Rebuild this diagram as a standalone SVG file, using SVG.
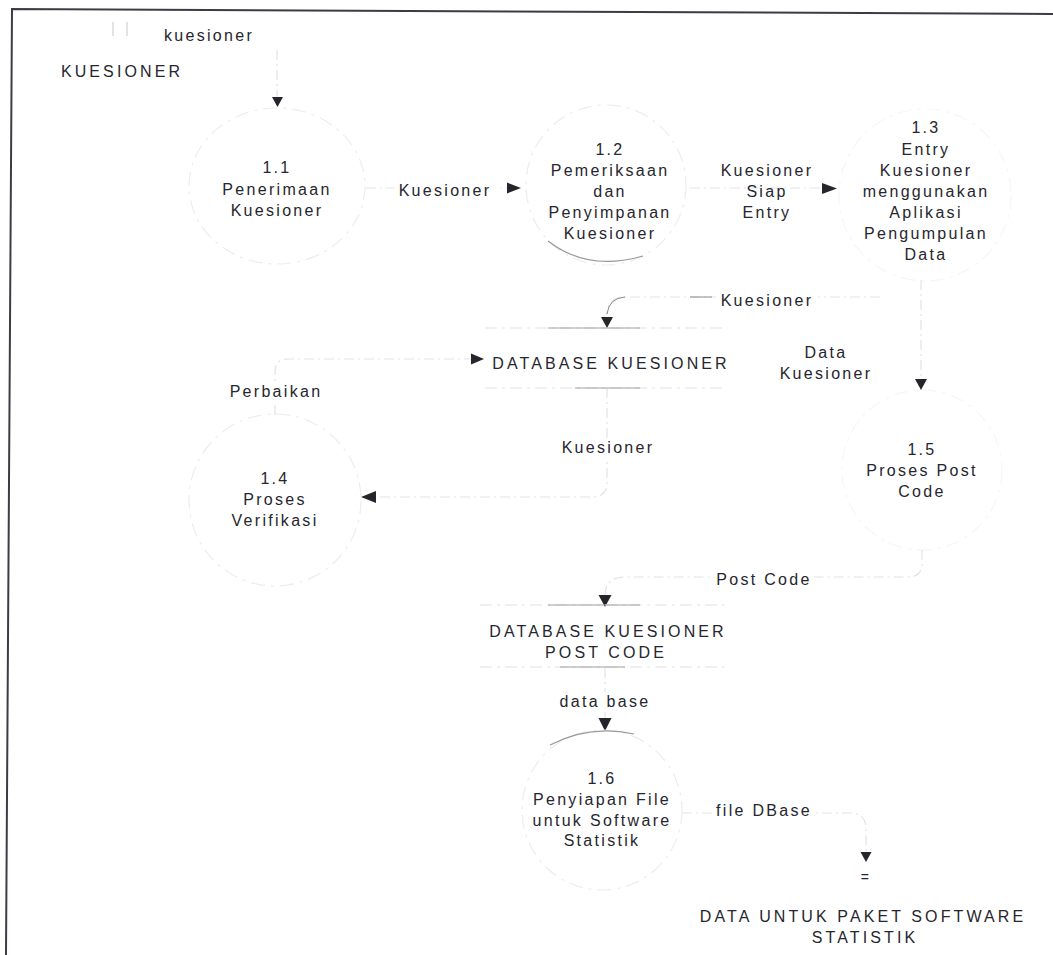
<svg xmlns="http://www.w3.org/2000/svg" width="1053" height="955" viewBox="0 0 1053 955">
<defs>
<style>
text{font-family:"Liberation Sans",Arial,sans-serif;font-size:16px;letter-spacing:2.3px;fill:#26262e;text-anchor:middle}
text.up{letter-spacing:3.1px}
.faint{fill:none;stroke:#e2e2e2;stroke-width:1.2;stroke-dasharray:12 5 3 5}
.proc{fill:none;stroke:#ededed;stroke-width:1.2;stroke-dasharray:14 6 3 6}
.arc{fill:none;stroke:#9a9a9a;stroke-width:1.2}
.flow{fill:none;stroke:#e3e3e3;stroke-width:1.2;stroke-dasharray:10 4 2 4}
.head{fill:#25252c}
.lbl{fill:#ffffff;stroke:none}
</style>
</defs>
<rect width="1053" height="955" fill="#ffffff"/>
<!-- frame -->
<path d="M1053,14 L12,9 L6,955" fill="none" stroke="#3c3c46" stroke-width="2"/>

<!-- connectors -->
<g id="connectors">
  <path class="flow" d="M277,50 L277,97"/>
  <path class="head" d="M272,97 L283,97 L277.5,107 Z"/>

  <path class="flow" d="M366,188 L507,188"/>
  <path class="head" d="M507,182.5 L507,193.5 L521,188 Z"/>

  <path class="flow" d="M690,188 L822,188"/>
  <path class="head" d="M822,183 L822,194 L837,188.5 Z"/>

  <path class="flow" d="M880,297 L625,297 Q607,297 607,315"/>
  <path fill="none" stroke="#8a8a8a" stroke-width="1" d="M690,297 L712,297 M625,297 Q609,298 607,314"/>
  <path class="head" d="M601,317 L613,317 L607,328 Z"/>

  <path class="flow" d="M607,388 L607,482 Q607,497 592,497 L376,497"/>
  <path class="head" d="M376,491 L376,503 L361,497 Z"/>

  <path class="flow" d="M275,415 L275,372 Q275,359 288,359 L471,359"/>
  <path class="head" d="M471,353.5 L471,364.5 L484,359 Z"/>

  <path class="flow" d="M921,280 L921,379"/>
  <path class="head" d="M915,379 L927,379 L921,390 Z"/>

  <path class="flow" d="M922,550 L922,563 Q922,577 908,577 L625,577 Q605,577 605,595"/>
  <path class="head" d="M598.5,595 L611.5,595 L605,607 Z"/>

  <path class="flow" d="M605,668 L605,718"/>
  <path class="head" d="M598.5,718 L611.5,718 L605,731 Z"/>

  <path class="flow" d="M682,813 L850,813 Q866,813 866,829 L866,852"/>
  <path class="head" d="M860.5,852 L871.5,852 L866,862 Z"/>

  <!-- flow labels -->
  <text x="209" y="41">kuesioner</text>
  <rect class="lbl" x="394" y="180" width="102" height="20"/>
  <text x="445" y="196">Kuesioner</text>
  <text x="767" y="176">Kuesioner</text>
  <text x="767" y="197">Siap</text>
  <text x="767" y="218">Entry</text>
  <rect class="lbl" x="716" y="290" width="102" height="20"/>
  <text x="767" y="306">Kuesioner</text>
  <text x="826" y="358">Data</text>
  <text x="826" y="379">Kuesioner</text>
  <rect class="lbl" x="226" y="383" width="98" height="20"/>
  <text x="276" y="397">Perbaikan</text>
  <rect class="lbl" x="558" y="439" width="100" height="20"/>
  <text x="608" y="453">Kuesioner</text>
  <rect class="lbl" x="712" y="570" width="102" height="20"/>
  <text x="764" y="585">Post Code</text>
  <rect class="lbl" x="558" y="692" width="94" height="20"/>
  <text x="605" y="707">data base</text>
  <rect class="lbl" x="716" y="804" width="96" height="20"/>
  <text x="764" y="816">file DBase</text>
</g>

<!-- external entity: KUESIONER -->
<g id="ext-kuesioner">
  <path fill="none" stroke="#d0d0d0" stroke-width="1.2" d="M113,22 L113,36 M127,22 L127,36"/>
  <text class="up" x="122" y="77">KUESIONER</text>
</g>

<!-- process 1.1 -->
<g id="p1-1">
  <ellipse class="proc" cx="277" cy="186" rx="88" ry="78"/>
  <text x="277" y="173">1.1</text>
  <text x="277" y="195">Penerimaan</text>
  <text x="277" y="216">Kuesioner</text>
</g>

<!-- process 1.2 -->
<g id="p1-2">
  <circle class="proc" cx="606" cy="185" r="80"/>
  <path class="arc" d="M548,241 Q588,272 643,256"/>
  <text x="610" y="155">1.2</text>
  <text x="610" y="176">Pemeriksaan</text>
  <text x="610" y="197">dan</text>
  <text x="610" y="218">Penyimpanan</text>
  <text x="610" y="239">Kuesioner</text>
</g>

<!-- process 1.3 -->
<g id="p1-3">
  <circle class="proc" cx="925" cy="195" r="86" stroke-opacity="0.5"/>
  <text x="926" y="133">1.3</text>
  <text x="926" y="155">Entry</text>
  <text x="926" y="176">Kuesioner</text>
  <text x="926" y="197">menggunakan</text>
  <text x="926" y="218">Aplikasi</text>
  <text x="926" y="239">Pengumpulan</text>
  <text x="926" y="260">Data</text>
</g>

<!-- data store: DATABASE KUESIONER -->
<g id="db-kuesioner">
  <path class="faint" d="M485,328 L725,328 M485,388 L725,388"/>
  <path stroke="#a0a0a0" stroke-width="1" d="M548,328 L640,328 M575,388 L640,388"/>
  <text class="up" x="611" y="369">DATABASE KUESIONER</text>
</g>

<!-- process 1.4 -->
<g id="p1-4">
  <circle class="proc" cx="275" cy="500" r="86"/>
  <text x="275" y="484">1.4</text>
  <text x="275" y="505">Proses</text>
  <text x="275" y="526">Verifikasi</text>
</g>

<!-- process 1.5 -->
<g id="p1-5">
  <circle class="proc" cx="922" cy="470" r="80" stroke-opacity="0.5"/>
  <text x="922" y="455">1.5</text>
  <text x="922" y="476">Proses Post</text>
  <text x="922" y="497">Code</text>
</g>

<!-- data store: DATABASE KUESIONER POST CODE -->
<g id="db-postcode">
  <path class="faint" d="M480,605 L728,605 M480,667 L728,667"/>
  <path stroke="#a0a0a0" stroke-width="1" d="M548,605 L640,605 M560,667 L625,667"/>
  <text class="up" x="608" y="637">DATABASE KUESIONER</text>
  <text class="up" x="606" y="658">POST CODE</text>
</g>

<!-- process 1.6 -->
<g id="p1-6">
  <circle class="proc" cx="602" cy="810" r="80"/>
  <path class="arc" d="M550,745 Q590,724 634,734"/>
  <text x="602" y="784">1.6</text>
  <text x="602" y="805">Penyiapan File</text>
  <text x="602" y="826">untuk Software</text>
  <text x="602" y="846">Statistik</text>
</g>

<!-- external entity: output -->
<g id="ext-output">
  <text x="866" y="882" style="font-size:14px">=</text>
  <text class="up" x="863" y="922">DATA UNTUK PAKET SOFTWARE</text>
  <text class="up" x="865" y="943">STATISTIK</text>
</g>
</svg>
